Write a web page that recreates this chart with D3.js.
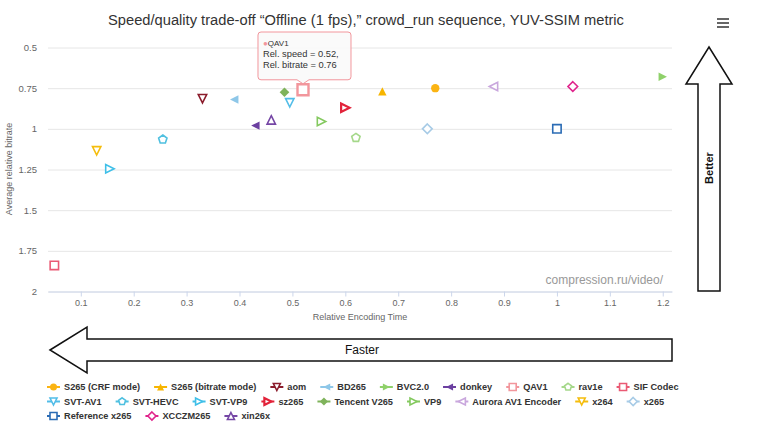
<!DOCTYPE html>
<html>
<head>
<meta charset="utf-8">
<script src="https://cdn.jsdelivr.net/npm/d3@7"></script>
<style>
  body { margin: 0; background: #fff; }
  svg { display: block; font-family: 'Liberation Sans', Arial, sans-serif; }
</style>
</head>
<body>
<svg id="chart" width="761" height="440"></svg>
<script>
// chart data
// ==========
const encoders = ['S265 (CRF mode)', 'S265 (bitrate mode)', 'aom', 'BD265', 'BVC2.0', 'donkey', 'QAV1', 'rav1e', 'SIF Codec',
  'SVT-AV1', 'SVT-HEVC', 'SVT-VP9', 'sz265', 'Tencent V265', 'VP9', 'Aurora AV1 Encoder', 'x264', 'x265',
  'Reference x265', 'XCCZM265', 'xin26x']
const relSpeed = [0.77, 0.67, 0.33, 0.39, 1.2, 0.43, 0.52, 0.62, 0.05,
  0.495, 0.255, 0.155, 0.6, 0.485, 0.555, 0.88, 0.13, 0.755,
  1, 1.03, 0.46]
const relBitrate = [0.75, 0.77, 0.815, 0.82, 0.68, 0.98, 0.76, 1.055, 1.84,
  0.84, 1.065, 1.245, 0.87, 0.775, 0.955, 0.74, 1.135, 1,
  1, 0.74, 0.945]
const xTicks = [0.1, 0.2, 0.3, 0.4, 0.5, 0.6, 0.7, 0.8, 0.9, 1, 1.1, 1.2]
const yTicks = [0.5, 0.75, 1, 1.25, 1.5, 1.75, 2]
const hovered = 'QAV1'

// series styles
// =============
const colors = ['#fbb413', '#f7b500', '#8b1c2c', '#8ec7e8', '#8fd16a', '#6b3fa0', '#f2969c', '#a5d88a', '#ea5a74',
  '#52bde8', '#4fc0e0', '#3fbfe8', '#e2233a', '#7fb35b', '#84c95f', '#c9a7dd', '#f5bd0d', '#a7cbe6',
  '#2b6cb5', '#e0248c', '#7546a5']
const shapes = ['circle', 'up', 'down', 'left', 'right', 'left', 'square', 'pentagon', 'square',
  'down', 'pentagon', 'right', 'right', 'diamond', 'right', 'left', 'down', 'diamond',
  'square', 'diamond', 'up']
const filled = [true, true, false, true, true, true, false, false, false,
  false, false, false, false, true, false, false, false, false,
  false, false, false]

const svg = d3.select('#chart')
const x = d3.scaleLinear().domain([0.038, 1.2175]).range([48, 672])
const y = d3.scaleLinear().domain([0.5, 2]).range([47.5, 291.5])

/**
 * marker shapes for d3.symbol, size = (2r)^2
 */
function polygon(points) {
  return {
    draw(context, size) {
      const r = Math.sqrt(size) / 2
      points.forEach((p, i) => {
        if (i === 0) context.moveTo(p[0] * r, p[1] * r)
        else context.lineTo(p[0] * r, p[1] * r)
      })
      context.closePath()
    }
  }
}
const pentagonPts = d3.range(5).map(k => {
  const a = -Math.PI / 2 + k * 2 * Math.PI / 5
  return [Math.cos(a) * 1.05, Math.sin(a) * 1.05]
})
const symbolTypes = {
  circle: { draw(context, size) { const r = Math.sqrt(size) / 2; context.moveTo(r, 0); context.arc(0, 0, r, 0, 2 * Math.PI) } },
  square: polygon([[-1, -1], [1, -1], [1, 1], [-1, 1]]),
  diamond: polygon([[0, -1.15], [1.15, 0], [0, 1.15], [-1.15, 0]]),
  up: polygon([[0, -1], [1, 1], [-1, 1]]),
  down: polygon([[0, 1], [1, -1], [-1, -1]]),
  right: polygon([[1, 0], [-1, 1], [-1, -1]]),
  left: polygon([[-1, 0], [1, -1], [1, 1]]),
  pentagon: polygon(pentagonPts)
}

function markerPath(i, r) {
  return d3.symbol().type(symbolTypes[shapes[i]]).size(4 * r * r)()
}

function setMarkerAttr(selection, opt) {
  selection
    .attr('d', i => markerPath(i, opt.r))
    .attr('fill', i => filled[i] ? colors[i] : '#fff')
    .attr('stroke', i => colors[i])
    .attr('stroke-width', i => filled[i] ? 0 : (encoders[i] === 'sz265' ? 2.2 : 1.6))
}

/**
 * 标题与菜单
 */
function drawTitle(selection) {
  selection.append('text')
    .attr('x', 366)
    .attr('y', 25)
    .attr('text-anchor', 'middle')
    .attr('font-size', 14.7)
    .attr('fill', '#333')
    .text('Speed/quality trade-off “Offline (1 fps),” crowd_run sequence, YUV-SSIM metric')

  selection.append('g')
    .selectAll('line')
    .data([19, 23, 27])
    .join('line')
    .attr('x1', 717)
    .attr('x2', 729)
    .attr('y1', d => d)
    .attr('y2', d => d)
    .attr('stroke', '#666')
    .attr('stroke-width', 2)
}

/**
 * 坐标轴
 */
function drawAxes(selection) {
  const yAxis = selection.append('g')
    .attr('transform', 'translate(48,0)')
    .call(d3.axisLeft(y).tickValues(yTicks).tickSize(-624).tickPadding(11).tickFormat(d => String(d)))
  yAxis.select('.domain').remove()
  yAxis.selectAll('.tick line').attr('stroke', '#e6e6e6')
  yAxis.selectAll('.tick text')
    .attr('fill', '#666')
    .attr('font-size', 9.5)
    .attr('font-family', 'Liberation Sans, Arial, sans-serif')

  const xAxis = selection.append('g')
    .attr('transform', 'translate(0,291.5)')
    .call(d3.axisBottom(x).tickValues(xTicks).tickSize(5).tickSizeOuter(0).tickPadding(3).tickFormat(d => String(d)))
  xAxis.select('.domain').attr('stroke', '#ccd6eb')
  xAxis.selectAll('.tick line').attr('stroke', '#ccd6eb')
  xAxis.selectAll('.tick text')
    .attr('fill', '#666')
    .attr('font-size', 9)
    .attr('font-family', 'Liberation Sans, Arial, sans-serif')

  // 轴标题
  // =====
  selection.append('text')
    .attr('transform', 'translate(12,169) rotate(-90)')
    .attr('text-anchor', 'middle')
    .attr('font-size', 9)
    .attr('fill', '#666')
    .text('Average relative bitrate')

  selection.append('text')
    .attr('x', 360)
    .attr('y', 320)
    .attr('text-anchor', 'middle')
    .attr('font-size', 9)
    .attr('fill', '#666')
    .text('Relative Encoding Time')

  selection.append('text')
    .attr('x', 663)
    .attr('y', 284)
    .attr('text-anchor', 'end')
    .attr('font-size', 12)
    .attr('fill', '#999')
    .text('compression.ru/video/')
}

/**
 * 散点
 */
function drawPoints(selection) {
  const idx = d3.range(encoders.length)
  selection.append('g')
    .selectAll('path')
    .data(idx)
    .join('path')
    .attr('transform', i => `translate(${x(relSpeed[i])},${y(relBitrate[i])})`)
    .call(setMarkerAttr, { r: 4.2 })
    .filter(i => encoders[i] === hovered)
    .attr('d', i => markerPath(i, 5.5))
    .attr('stroke-width', 2.4)
}

/**
 * 悬停提示框
 */
function drawTooltip(selection) {
  const i = encoders.indexOf(hovered)
  const px = x(relSpeed[i])
  const py = y(relBitrate[i])
  const left = px - 45, right = px + 48, top = 32, bottom = py - 10
  const g = selection.append('g')

  g.append('path')
    .attr('d', `M${left + 3},${top} H${right - 3} Q${right},${top} ${right},${top + 3} V${bottom - 3}
      Q${right},${bottom} ${right - 3},${bottom} H${px + 6} L${px},${py - 6} L${px - 6},${bottom}
      H${left + 3} Q${left},${bottom} ${left},${bottom - 3} V${top + 3} Q${left},${top} ${left + 3},${top}Z`)
    .attr('fill', 'rgba(250,250,250,0.9)')
    .attr('stroke', colors[i])
    .attr('stroke-width', 1)

  const text = g.append('text')
    .attr('x', left + 5)
    .attr('font-size', 9.3)
    .attr('fill', '#333')
  text.append('tspan').attr('y', top + 14).attr('fill', colors[i]).attr('font-size', 8).text('●')
  text.append('tspan').attr('font-size', 8).text(hovered)
  text.append('tspan').attr('x', left + 5).attr('y', top + 25).text(`Rel. speed = ${d3.format('.2f')(relSpeed[i])},`)
  text.append('tspan').attr('x', left + 5).attr('y', top + 36).text(`Rel. bitrate = ${d3.format('.2f')(relBitrate[i])}`)
}

/**
 * 图例
 */
function drawLegend(selection, opt) {
  let cx = opt.left
  let cy = opt.top
  encoders.forEach((name, i) => {
    const item = selection.append('g')
    const text = item.append('text')
      .attr('x', opt.symbolWidth + opt.symbolPadding)
      .attr('dy', '.35em')
      .attr('font-size', opt.fontSize)
      .attr('font-weight', 'bold')
      .attr('fill', '#333')
      .text(name)
    const w = opt.symbolWidth + opt.symbolPadding + text.node().getComputedTextLength()
    if (cx + w > opt.maxX && cx > opt.left) {
      cx = opt.left
      cy += opt.lineHeight
    }
    item.attr('transform', `translate(${cx},${cy})`)
    item.append('line')
      .attr('x1', 0)
      .attr('x2', opt.symbolWidth)
      .attr('stroke', colors[i])
      .attr('stroke-width', 2)
    item.append('path')
      .datum(i)
      .attr('transform', `translate(${opt.symbolWidth / 2},0)`)
      .call(setMarkerAttr, { r: 3.5 })
    cx += w + opt.itemDistance
  })
}

/**
 * 方向箭头
 */
function drawArrows(selection) {
  selection.append('path')
    .attr('d', 'M709,47 L732,84 L720,84 L720,291 L698,291 L698,84 L686,84 Z')
    .attr('fill', '#fff')
    .attr('stroke', '#111')
    .attr('stroke-width', 1.5)
  selection.append('text')
    .attr('transform', 'translate(713,168) rotate(-90)')
    .attr('text-anchor', 'middle')
    .attr('font-size', 11)
    .attr('font-weight', 'bold')
    .attr('fill', '#111')
    .text('Better')

  selection.append('path')
    .attr('d', 'M50,350 L87,327 L87,339 L672,339 L672,361 L87,361 L87,373 Z')
    .attr('fill', '#fff')
    .attr('stroke', '#111')
    .attr('stroke-width', 1.5)
  selection.append('text')
    .attr('x', 362)
    .attr('y', 354)
    .attr('text-anchor', 'middle')
    .attr('font-size', 12)
    .attr('fill', '#111')
    .text('Faster')
}

svg.call(drawTitle)
svg.call(drawAxes)
svg.call(drawPoints)
svg.call(drawTooltip)
svg.call(drawArrows)
svg.append('g').call(drawLegend, {
  left: 47, top: 387, maxX: 705, lineHeight: 14.5,
  symbolWidth: 13, symbolPadding: 4, itemDistance: 14, fontSize: 9.2
})
</script>
</body>
</html>
